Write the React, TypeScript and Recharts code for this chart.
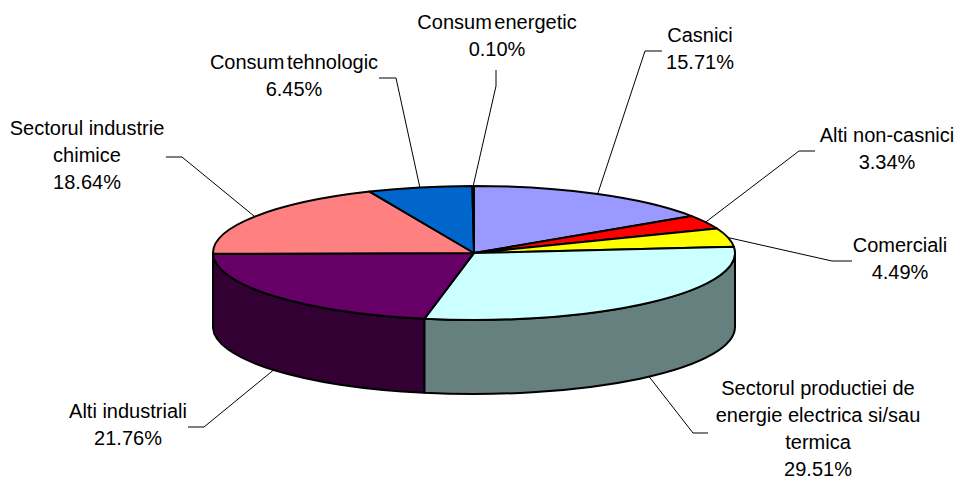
import React from 'react';
import { PieChart, Pie } from 'recharts';

const categories = [
  ['Casnici'],
  ['Alti non-casnici'],
  ['Comerciali'],
  ['Sectorul productiei de', 'energie electrica si/sau', 'termica'],
  ['Alti industriali'],
  ['Sectorul industrie', 'chimice'],
  ['Consum tehnologic'],
  ['Consum energetic'],
];
const shares = [15.71, 3.34, 4.49, 29.51, 21.76, 18.64, 6.45, 0.1];

const topColors = ['#9999FF', '#FF0000', '#FFFF00', '#CCFFFF', '#660066', '#FF8080', '#0066CC', '#CCCCFF'];
const wallColors = ['#4D4D80', '#800000', '#808000', '#668080', '#330033', '#804040', '#003366', '#666680'];

// label placement: text centre, first baseline, and the elbow of the leader line
const labelBoxes = [
  { x: 700, y: 42, from: [662, 51], elbow: [645, 51], wordGap: 0 },
  { x: 887, y: 142, from: [815, 151], elbow: [799, 151], wordGap: 0 },
  { x: 900, y: 252, from: [852, 261], elbow: [832, 261], wordGap: 0 },
  { x: 818, y: 394.5, from: [708, 433], elbow: [693, 433], wordGap: 0 },
  { x: 128, y: 418, from: [188, 427], elbow: [204, 427], wordGap: 0 },
  { x: 87, y: 135, from: [166, 157], elbow: [182, 157], wordGap: 0 },
  { x: 294, y: 69, from: [379, 78], elbow: [396, 78], wordGap: -3 },
  { x: 497, y: 29, from: [496, 70], elbow: [496, 86], wordGap: -3 },
];

const WIDTH = 958;
const HEIGHT = 480;
const CX = 474;
const CY = 253;
const RX = 261;
const RY = 67;
const DEPTH = 74;
const LINE_HEIGHT = 27;

const rad = (deg: number) => (deg * Math.PI) / 180;
const px = (a: number) => CX + RX * Math.cos(rad(a));
const py = (a: number) => CY - RY * Math.sin(rad(a));

const tableTop = shares.map((value, i) => ({ name: categories[i].join(' '), value, fill: topColors[i] }));
const tableWall = shares.map((value, i) => ({ name: categories[i].join(' '), value, fill: wallColors[i] }));

// squashed sector, the library still supplies the angles
const TopSlice = (props: any) => {
  const { startAngle: a, endAngle: b, fill } = props;
  const large = Math.abs(a - b) > 180 ? 1 : 0;
  const d = `M${CX},${CY}L${px(a)},${py(a)}A${RX},${RY} 0 ${large} 1 ${px(b)},${py(b)}Z`;
  return <path d={d} fill={fill} stroke="#000" strokeWidth={2} strokeLinejoin="round" />;
};

// side of the disc, only the part of the slice on the front half
const WallSlice = (props: any) => {
  const { startAngle, endAngle, fill } = props;
  const a = Math.min(startAngle, 0);
  const b = Math.max(endAngle, -180);
  if (a <= b) return <g />;
  const d =
    `M${px(a)},${py(a)}A${RX},${RY} 0 0 1 ${px(b)},${py(b)}` +
    `L${px(b)},${py(b) + DEPTH}A${RX},${RY} 0 0 0 ${px(a)},${py(a) + DEPTH}Z`;
  return <path d={d} fill={fill} stroke="#000" strokeWidth={2} strokeLinejoin="round" />;
};

const renderLabel = ({ index }: any) => {
  const box = labelBoxes[index];
  const lines = [...categories[index], `${shares[index].toFixed(2)}%`];
  return (
    <text
      x={box.x}
      y={box.y}
      textAnchor="middle"
      fontFamily="Liberation Sans"
      fontSize={20}
      fill="#000"
      style={{ wordSpacing: box.wordGap }}
    >
      {lines.map((line, i) => (
        <tspan key={i} x={box.x} y={box.y + i * LINE_HEIGHT}>
          {line}
        </tspan>
      ))}
    </text>
  );
};

const renderLeader = ({ index, midAngle }: any) => {
  const box = labelBoxes[index];
  const front = Math.sin(rad(midAngle)) < 0;
  const ex = px(midAngle);
  const ey = py(midAngle) + (front ? DEPTH : 0);
  return (
    <path
      d={`M${box.from[0]},${box.from[1]}L${box.elbow[0]},${box.elbow[1]}L${ex},${ey}`}
      fill="none"
      stroke="#000"
      strokeWidth={1}
    />
  );
};

export default function App() {
  return (
    <div style={{ position: 'absolute', left: 0, top: 0, width: WIDTH, height: HEIGHT }}>
      <PieChart width={WIDTH} height={HEIGHT} margin={{ top: 0, right: 0, bottom: 0, left: 0 }}>
        <Pie
          data={tableWall}
          dataKey="value"
          cx={CX}
          cy={CY}
          outerRadius={RX}
          startAngle={90}
          endAngle={-270}
          shape={WallSlice}
          isAnimationActive={false}
        />
        <Pie
          data={tableTop}
          dataKey="value"
          cx={CX}
          cy={CY}
          outerRadius={RX}
          startAngle={90}
          endAngle={-270}
          shape={TopSlice}
          label={renderLabel}
          labelLine={renderLeader}
          isAnimationActive={false}
        />
      </PieChart>
    </div>
  );
}
